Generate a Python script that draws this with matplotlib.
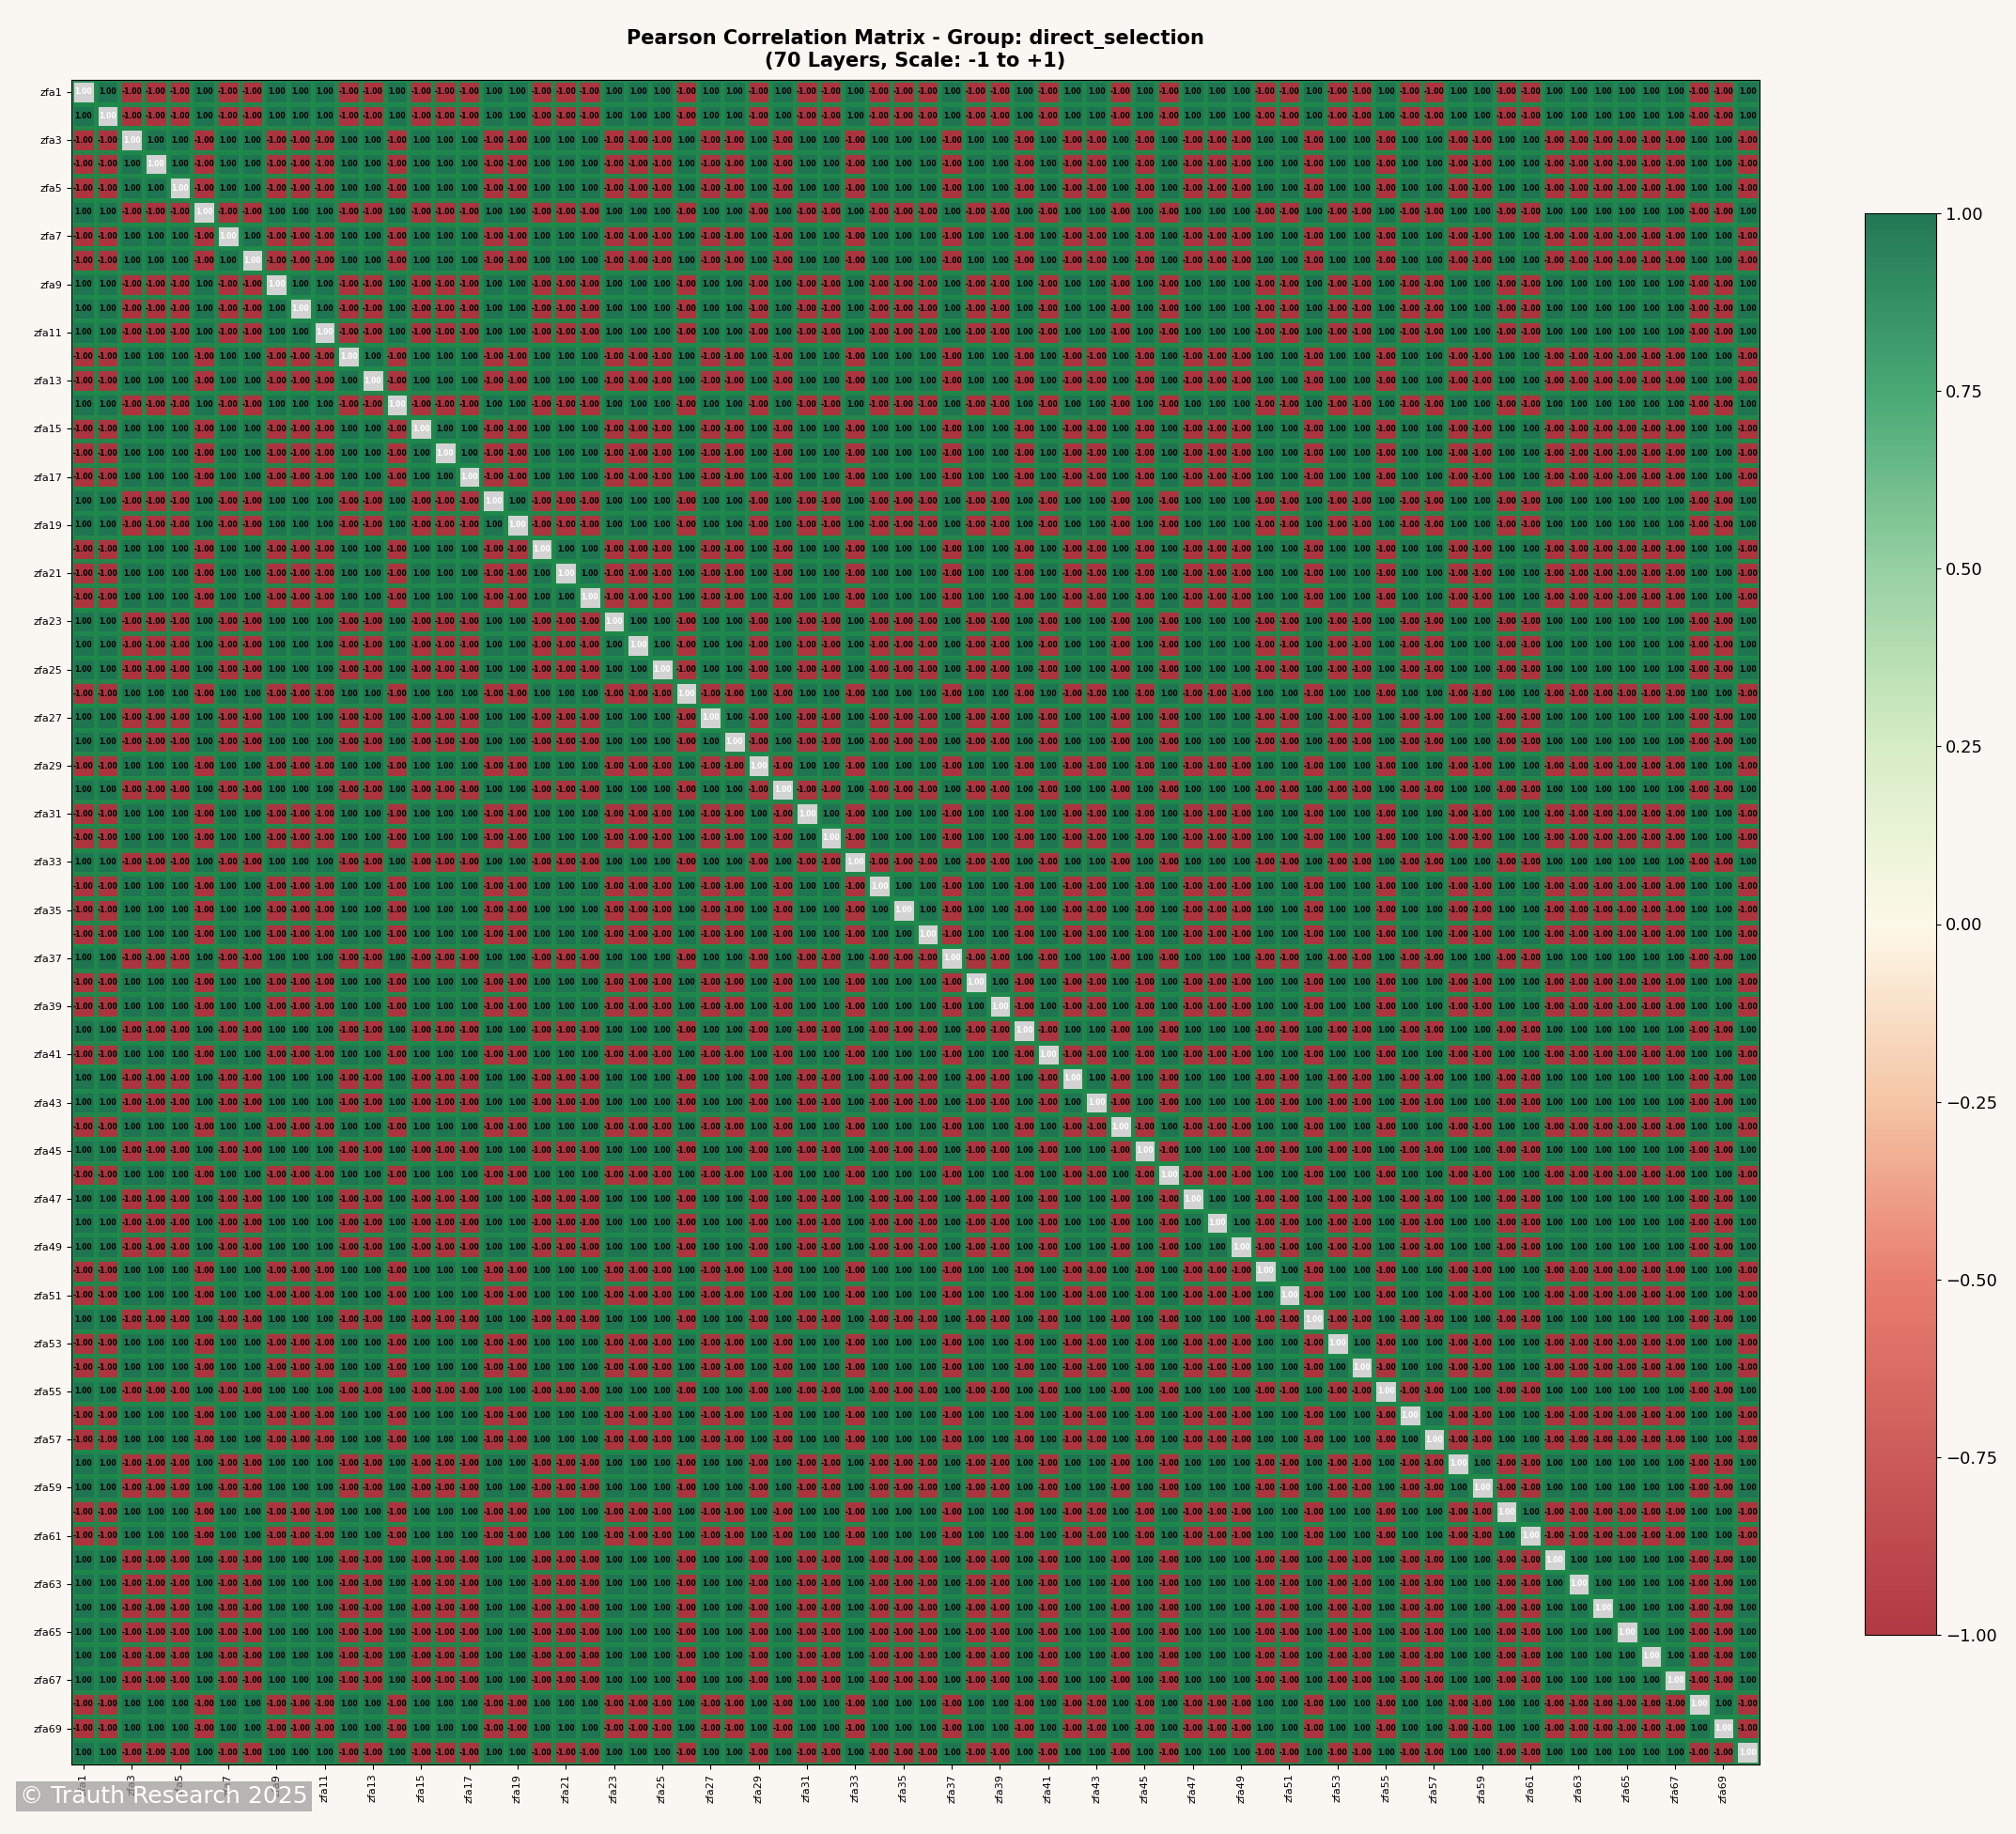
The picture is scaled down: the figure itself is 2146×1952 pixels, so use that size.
import numpy as np
import matplotlib
matplotlib.use("Agg")
import matplotlib.pyplot as plt
from matplotlib.colors import LinearSegmentedColormap

layers = [f"zfa{i}" for i in range(1, 71)]
signs = [1,1,-1,-1,-1,1,-1,-1,1,1,1,-1,-1,1,-1,-1,-1,1,1,-1,
         -1,-1,1,1,1,-1,1,1,-1,1,-1,-1,1,-1,-1,-1,1,-1,-1,1,
         -1,1,1,-1,1,-1,1,1,1,-1,-1,1,-1,-1,1,-1,-1,1,1,-1,
         -1,1,1,1,1,1,1,-1,-1,1]
s = np.array(signs, dtype=float)
corr = np.outer(s, s)
n = len(layers)

bg = "#faf7f2"
fig = plt.figure(figsize=(21.46, 19.52), dpi=100, facecolor=bg)
ax = fig.add_axes([76/2146, 1-1878/1952, 1797/2146, 1793/1952])
cax = fig.add_axes([1985/2146, 1-1740/1952, 76/2146, 1513/1952])

cmap = LinearSegmentedColormap.from_list("rwg", [
    (0.0, "#a8232f"), (0.25, "#e6705f"), (0.375, "#f4bf9c"), (0.5, "#fdf9e6"),
    (0.625, "#d3ebbf"), (0.75, "#8ccc98"), (0.875, "#34a066"), (1.0, "#0b6a43")])
masked = np.ma.masked_where(np.eye(n, dtype=bool), corr)
ax.set_facecolor("#d3d3d3")
ax.pcolormesh(masked, cmap=cmap, vmin=-1, vmax=1, edgecolor="#1f8a4c",
              linewidth=3.5, alpha=0.9)
ax.set_xlim(0, n); ax.set_ylim(n, 0)
for i in range(n):
    for j in range(n):
        v = corr[i, j]
        ax.text(j + 0.5, i + 0.5, f"{v:.2f}", ha="center", va="center",
                fontsize=5.5, fontweight="bold",
                color="white" if i == j else "black", clip_on=True)
ticks = np.arange(0, n, 2) + 0.5
ax.set_xticks(ticks)
ax.set_xticklabels(layers[::2], rotation=90, fontsize=8)
ax.set_yticks(ticks)
ax.set_yticklabels(layers[::2], fontsize=8)
ax.set_title("Pearson Correlation Matrix - Group: direct_selection\n(70 Layers, Scale: -1 to +1)",
             fontsize=15, fontweight="bold", pad=10)

sm = plt.cm.ScalarMappable(cmap=cmap, norm=plt.Normalize(-1, 1))
cb = fig.colorbar(sm, cax=cax)
cb.solids.set_alpha(0.9)
cb.set_ticks([-1, -0.75, -0.5, -0.25, 0, 0.25, 0.5, 0.75, 1])
cb.ax.tick_params(labelsize=13)

fig.text(0.01, 0.017, "© Trauth Research 2025", fontsize=18, color="white",
         bbox=dict(facecolor="#9a9a9a", alpha=0.7, edgecolor="none", pad=3))
fig.savefig("out.png", dpi=100, facecolor=bg)
